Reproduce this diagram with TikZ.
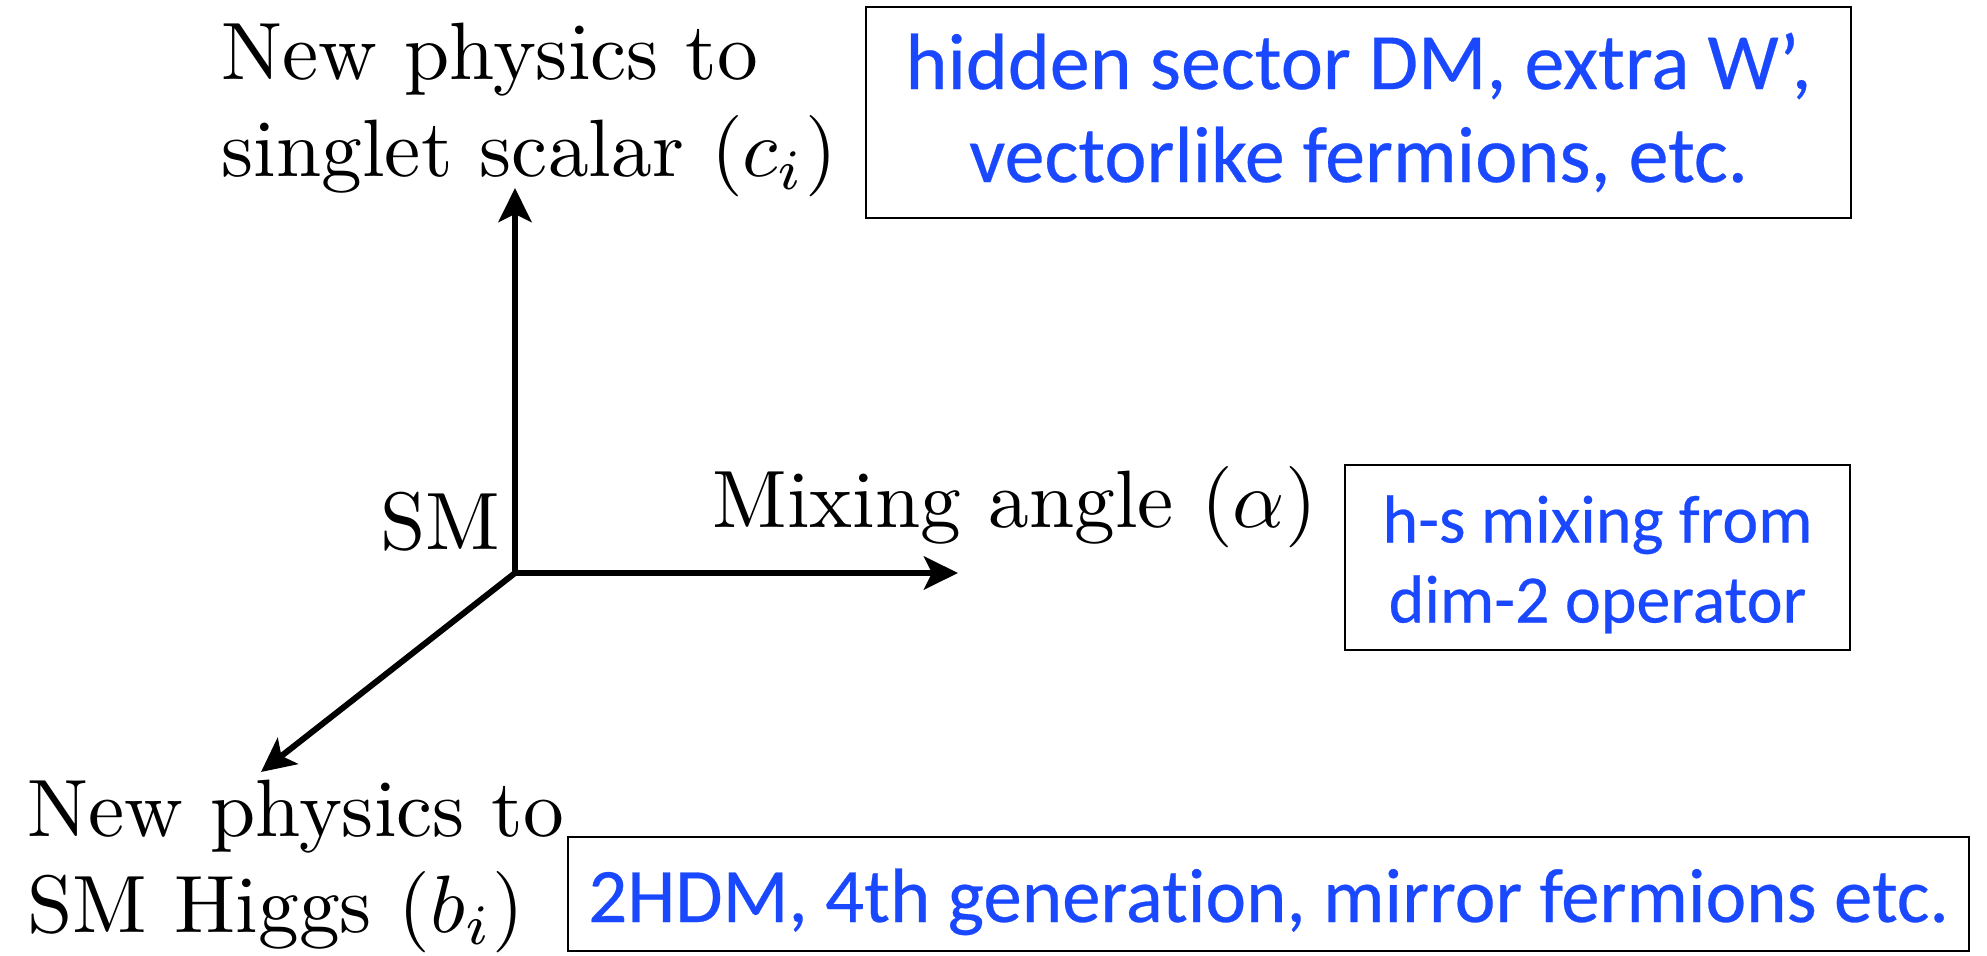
\documentclass[tikz,border=0pt]{standalone}
\usepackage{fontspec}
\newfontfamily\gill{Carlito}[Ligatures=NoCommon,FakeBold=0.35]
\usetikzlibrary{arrows.meta}
\definecolor{textblue}{RGB}{26,72,255}
\begin{document}
\begin{tikzpicture}[x=0.5pt,y=-0.5pt,
  cmlabel/.style={anchor=base west,inner sep=0pt,scale=4.07},
  axis/.style={line width=3pt,-{Stealth[length=17pt,width=16.5pt,inset=4pt]}},
  bluebox/.style={draw=black,line width=1.4pt,inner sep=0pt,align=center,text=textblue}]
\useasboundingbox (0,0) rectangle (1987,956);
% axes
\coordinate (O) at (515,573);
\coordinate (ztip) at (515,188);
\coordinate (xtip) at (958,573);
\coordinate (dtip) at (261,772);
\draw[axis] (O) -- (ztip);
\draw[axis] (O) -- (xtip);
\draw[axis] (O) -- (dtip);
% labels
\node[cmlabel] (top1) at (220,80) {New physics to};
\node[cmlabel] (top2) at (220,177) {singlet scalar $(c_i)$};
\node[cmlabel] (sm) at (379,550) {SM};
\node[cmlabel] (mix) at (711,528) {Mixing angle $(\alpha)$};
\node[cmlabel] (bot1) at (26,836) {New physics to};
\node[cmlabel] (bot2) at (26,932) {SM Higgs $(b_i)$};
% boxes
\node[bluebox,minimum width=492.5pt,minimum height=105.5pt,
  font=\gill\fontsize{40}{46.5}\selectfont] (hidden) at (1358.5,112.5)
  {hidden sector DM, extra W’,\\vectorlike fermions, etc.};
\node[bluebox,minimum width=252.5pt,minimum height=92.5pt,
  font=\gill\fontsize{34}{40}\selectfont] (hs) at (1597.5,557.5)
  {\rule{0pt}{30.5pt}h-s mixing from\\dim-2 operator};
\node[bluebox,minimum width=700.5pt,minimum height=57pt,text height=36pt,text depth=8pt,
  font=\gill\fontsize{38.5}{46}\selectfont] (hdm) at (1268.5,894)
  {2HDM, 4th generation, mirror fermions etc.};
\end{tikzpicture}
\end{document}
